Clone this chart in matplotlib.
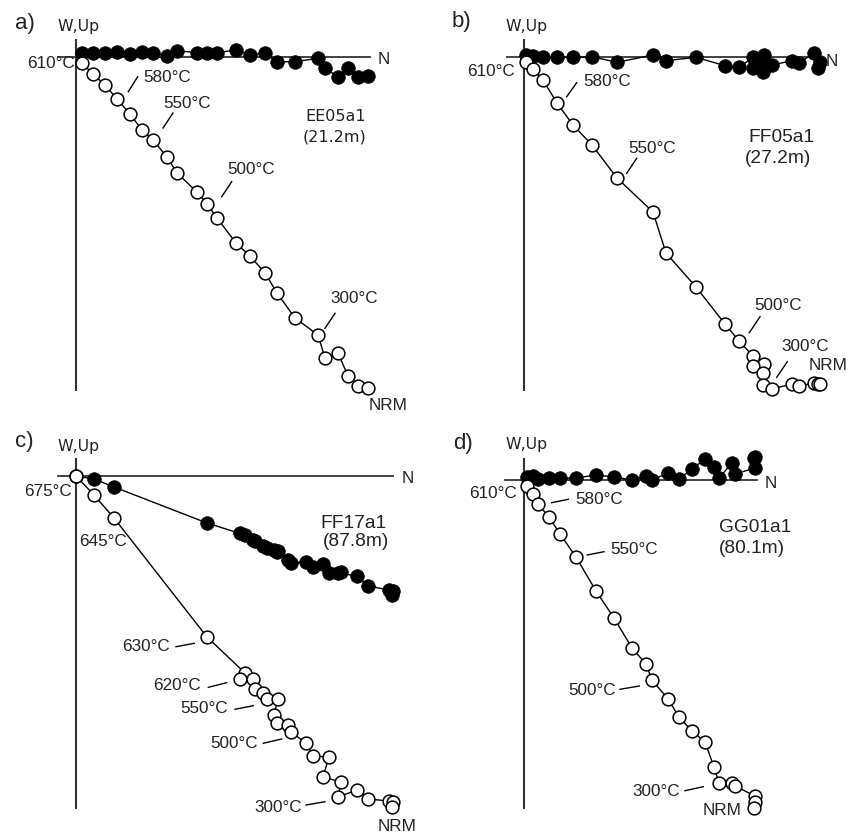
import matplotlib
matplotlib.use("Agg")
import matplotlib.pyplot as plt

# ---- data (relative components, arbitrary units; origin = 0,0) ----
# Panel a  EE05a1
a_north = [6, 17, 29, 41, 54, 66, 77, 91, 101, 121, 131, 141, 160, 174, 189, 201, 219, 242, 249, 262, 272, 282, 292]
a_east = [3.7, 3.7, 4.3, 5.3, 3, 5.3, 4.3, 1, 6.3, 4.3, 4.3, 4.3, 7, 2, 4.3, -4.7, -4.7, -1.3, -11.3, -19.7, -11.3, -19.7, -19]
a_up = [-6, -17, -28, -42, -57, -73, -83, -100, -116, -135, -147, -161, -186, -199, -216, -236, -261, -278, -301, -296, -319, -329, -331]

# Panel b  FF05a1
b_north = [2, 9, 19, 33, 49, 68, 93, 129, 142, 172, 201, 215, 229, 240, 229, 239, 239, 248, 268, 275, 290, 294, 296]
b_east = [2, 1, 0.3, -0.3, -0.3, 0.3, -5.3, 2, -3.7, -0.3, -8.7, -10.3, -0.3, 2, -11.3, -6.3, -14.7, -8, -3.7, -5.7, 3.7, -11.3, -4.7]
b_up = [-5, -12, -23, -46, -68, -88, -121, -155, -196, -230, -267, -284, -299, -307, -309, -316, -328, -332, -327, -329, -326, -327, -327]

# Panel c  FF17a1
c_north = [0, 18, 38, 131, 169, 164, 177, 179, 187, 191, 202, 198, 201, 212, 215, 230, 237, 253, 247, 265, 262, 281, 292, 313, 317, 316]
c_east = [0, -3, -11, -47, -59, -57, -64, -65, -70, -72, -75, -74, -76, -84, -87, -86, -91, -97, -88, -96, -97, -100, -110, -114, -115, -119]
c_up = [0, -19, -42, -161, -197, -203, -203, -213, -217, -223, -223, -239, -247, -249, -256, -267, -280, -281, -301, -306, -321, -314, -323, -325, -326, -331]

# Panel d  GG01a1
d_north = [3, 9, 14, 25, 36, 52, 72, 90, 108, 122, 128, 144, 155, 168, 181, 190, 195, 208, 211, 231, 231, 230]
d_east = [3, 4, 1, 2, 2, 2, 5, 3, 0, 4, 0, 7, 1, 11, 21, 13, 2, 17, 6, 12, 23, 22]
d_up = [-6, -14, -24, -37, -54, -77, -111, -138, -168, -184, -200, -219, -237, -251, -262, -287, -303, -303, -306, -316, -322, -328]

panel_letters = ["a)", "b)", "c)", "d)"]
sample_names = ["EE05a1", "FF05a1", "FF17a1", "GG01a1"]
sample_heights = ["(21.2m)", "(27.2m)", "(87.8m)", "(80.1m)"]

W, H = 849, 833
fig = plt.figure(figsize=(W / 100, H / 100), dpi=100)
fig.patch.set_facecolor("white")

TXT = "#222222"
FONT = "Liberation Sans"
TFS = 12.3

# panel geometry (pixel rectangle + origin in pixel) and decoration
panels = [
    dict(rect=(0, 0, 424, 416), origin=(76, 57), north=a_north, east=a_east, up=a_up,
         hline=(-18, 294), vline=(17, -333),
         letter=(-61, 34), wup=(3, 30), nlab=(308, -3),
         name=(229, -59.7), height=(227, -79.7), namefont=("DejaVu Sans", 11.5),
         first=("610°C", -1, -6),
         temps=[("580°C", 67, -20, (61.7, -19.7, 52.3, -34.7)),
                ("550°C", 87, -46, (97, -56, 87, -71)),
                ("500°C", 151, -113, (155.7, -124.7, 145.7, -139.7)),
                ("300°C", 254, -241.3, (259, -256.3, 249, -271.3)),
                ("NRM", 293, -348, None)]),
    dict(rect=(424, 0, 849, 416), origin=(524, 57), north=b_north, east=b_east, up=b_up,
         hline=(-17, 296), vline=(17, -333),
         letter=(-72, 35.3), wup=(3, 30.3), nlab=(307.7, -4.7),
         name=(224, -80.7), height=(221, -101.3), namefont=(FONT, 13.8),
         first=("610°C", -9, -14.7),
         temps=[("580°C", 59.3, -24.7, (52.7, -25.7, 42.7, -39.7)),
                ("550°C", 104.3, -91.3, (112.7, -101.3, 102.7, -116.3)),
                ("500°C", 230.3, -248, (236, -259.7, 225.3, -275.7)),
                ("300°C", 257.7, -289.7, (263.3, -304.7, 252.7, -320.3)),
                ("NRM", 284.3, -308.7, None)]),
    dict(rect=(0, 416, 424, 833), origin=(76, 476), north=c_north, east=c_east, up=c_up,
         hline=(-18, 317), vline=(17, -332),
         letter=(-61, 34.3), wup=(3, 29.3), nlab=(331.5, -2.3),
         name=(244, -47.3), height=(247, -65.7), namefont=(FONT, 13.8),
         first=("675°C", -4, -15.7),
         temps=[("645°C", 3.3, -65.7, None),
                ("630°C", 45.7, -170.7, (100, -170.7, 118.3, -167.3)),
                ("620°C", 77.3, -210, (132.3, -211.3, 150.7, -206.7)),
                ("550°C", 104, -232.3, (159, -233.3, 177.3, -229.7)),
                ("500°C", 134, -268, (187.3, -267.3, 205.7, -263)),
                ("300°C", 178, -331.3, (230, -329, 249, -325.7)),
                ("NRM", 301.7, -350.7, None)]),
    dict(rect=(424, 416, 849, 833), origin=(524, 480), north=d_north, east=d_east, up=d_up,
         hline=(-19, 233), vline=(21, -328),
         letter=(-71, 36.7), wup=(3, 35), nlab=(247, -3),
         name=(195.3, -47.3), height=(195.3, -68.3), namefont=(FONT, 13.8),
         first=("610°C", -7.3, -14),
         temps=[("580°C", 51, -19, (27.7, -22.7, 44.3, -19.3)),
                ("550°C", 86.7, -69.3, (63.3, -75, 80, -71.7)),
                ("500°C", 44.3, -210.7, (96, -209.3, 115.3, -206)),
                ("300°C", 108.7, -311, (161, -310.7, 179.3, -306.7)),
                ("NRM", 178.7, -330.7, None)]),
]

for i, p in enumerate(panels):
    x0, y0, x1, y1 = p["rect"]
    ox, oy = p["origin"]
    ax = fig.add_axes([x0 / W, 1 - y1 / H, (x1 - x0) / W, (y1 - y0) / H])
    ax.set_xlim(x0 - ox, x1 - ox)
    ax.set_ylim(oy - y1, oy - y0)
    ax.axis("off")

    # axes of the Zijderveld diagram
    ax.plot(p["hline"], [0, 0], color="#333333", lw=1.3, zorder=1, clip_on=False)
    ax.plot([0, 0], p["vline"], color="#333333", lw=1.5, zorder=1, clip_on=False)

    # horizontal projection (closed) and vertical projection (open)
    ax.plot(p["north"], p["east"], color="black", lw=1.0, marker="o", ms=9.8,
            mfc="black", mec="black", mew=0.5, zorder=3, clip_on=False)
    ax.plot(p["north"], p["up"], color="black", lw=1.0, marker="o", ms=9.2,
            mfc="white", mec="black", mew=1.1, zorder=4, clip_on=False)

    # labels
    ax.text(*p["letter"], panel_letters[i], fontsize=16, family=FONT, color=TXT,
            ha="left", va="center")
    ax.text(*p["wup"], "W,Up", fontsize=11.3, family="DejaVu Sans", color=TXT,
            ha="center", va="center")
    ax.text(*p["nlab"], "N", fontsize=TFS, family=FONT, color=TXT, ha="center", va="center")
    nf, ns = p["namefont"]
    ax.text(*p["name"], sample_names[i], fontsize=ns, family=nf, color=TXT, ha="left", va="center")
    ax.text(*p["height"], sample_heights[i], fontsize=ns, family=nf, color=TXT, ha="left", va="center")

    lab, tx, ty = p["first"]
    ax.text(tx, ty, lab, fontsize=TFS, family=FONT, color=TXT, ha="right", va="center", zorder=2)
    for lab, tx, ty, lead in p["temps"]:
        ax.text(tx, ty, lab, fontsize=TFS, family=FONT, color=TXT, ha="left", va="center")
        if lead is not None:
            ax.plot([lead[0], lead[2]], [lead[1], lead[3]], color="black", lw=1.0)

fig.savefig("out.png", dpi=100, facecolor="white")
